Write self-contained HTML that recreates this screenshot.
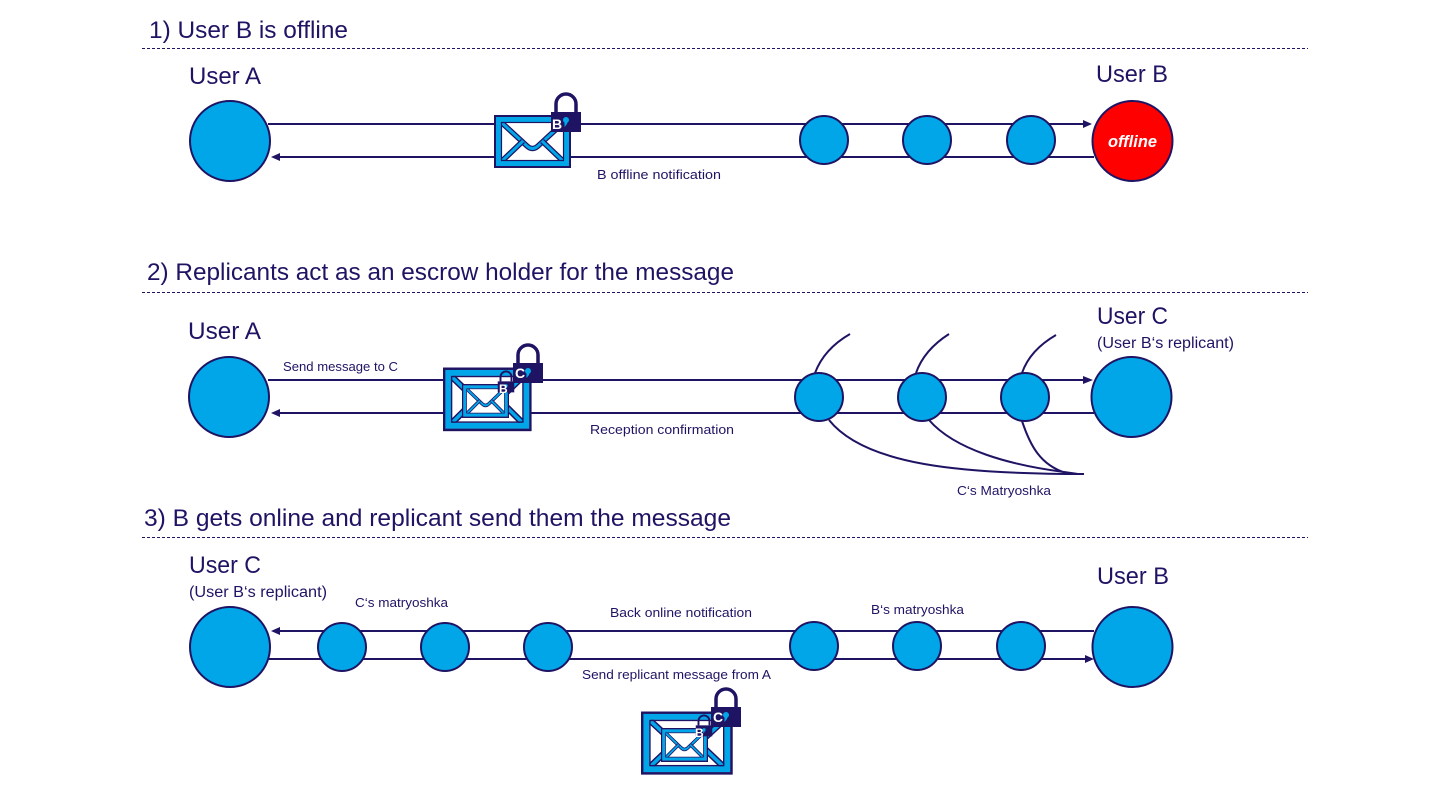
<!DOCTYPE html>
<html><head><meta charset="utf-8"><style>
html,body{margin:0;padding:0;background:#fff}
svg{display:block}
text{font-family:"Liberation Sans",sans-serif;fill:#1f1464}
.h{font-size:24px}
.u{font-size:24px}
.s{font-size:15.5px}
.t{font-size:12.5px}
.l{stroke:#1f1464;stroke-width:2;fill:none}
.c{fill:#00a6e8;stroke:#1f1464;stroke-width:2}
.d{stroke:#1f1464;stroke-width:1;stroke-dasharray:3 2;fill:none}
</style></head><body>
<svg width="1440" height="810" viewBox="0 0 1440 810" xmlns="http://www.w3.org/2000/svg">
<defs>
<g id="env">
<rect x="1" y="1" width="75" height="51" fill="#fff" stroke="#1f1464" stroke-width="2"/>
<path d="M8 8 L33 31 Q38.500 36 44 31 L69 8" fill="none" stroke="#1f1464" stroke-width="5.500"/>
<path d="M8 8 L33 31 Q38.500 36 44 31 L69 8" fill="none" stroke="#00a6e8" stroke-width="3"/>
<path d="M8 46 L29 26 M69 46 L48 26" fill="none" stroke="#1f1464" stroke-width="5.500"/>
<path d="M8 46 L29 26 M69 46 L48 26" fill="none" stroke="#00a6e8" stroke-width="3"/>
<rect x="4.500" y="4.500" width="68" height="44" fill="none" stroke="#00a6e8" stroke-width="5"/>
<rect x="7.500" y="7.500" width="62" height="38" fill="none" stroke="#1f1464" stroke-width="1.200"/>
<rect x="1" y="1" width="75" height="51" fill="none" stroke="#1f1464" stroke-width="2"/>
</g>
<g id="lock">
<path d="M-10 17 V9 A10 10 0 0 1 10 9 V17" fill="none" stroke="#1f1464" stroke-width="3.500"/>
<rect x="-15" y="17" width="30" height="20" fill="#1f1464"/>
<circle cx="0" cy="25" r="3" fill="#00a6e8"/>
<path d="M-1.500 26 L-1.500 32 L1 29 L1.500 26 Z" fill="#00a6e8"/>
</g>
</defs>

<!-- Section 1 -->
<text class="h" x="149" y="38" textLength="199" lengthAdjust="spacingAndGlyphs">1) User B is offline</text>
<line class="d" x1="142" y1="48.500" x2="1308" y2="48.500"/>
<text class="u" x="189" y="84" textLength="72" lengthAdjust="spacingAndGlyphs">User A</text>
<text class="u" x="1096" y="82" textLength="72" lengthAdjust="spacingAndGlyphs">User B</text>
<line class="l" x1="268" y1="124" x2="1086" y2="124"/>
<path d="M1092 124 L1083 120 V128 Z" fill="#1f1464"/>
<line class="l" x1="280" y1="157" x2="1094" y2="157"/>
<path d="M271 157 L280 153 V161 Z" fill="#1f1464"/>
<circle class="c" cx="230" cy="141" r="40"/>
<circle class="c" cx="824" cy="140" r="24"/>
<circle class="c" cx="927" cy="140" r="24"/>
<circle class="c" cx="1031" cy="140" r="24"/>
<circle cx="1132.500" cy="141" r="40" fill="#fe0000" stroke="#1f1464" stroke-width="2"/>
<text x="1108" y="147" font-size="16.500" font-weight="bold" font-style="italic" style="fill:#fff" textLength="49" lengthAdjust="spacingAndGlyphs">offline</text>
<use href="#env" x="494" y="115"/>
<use href="#lock" x="566" y="95"/>
<text x="552" y="129" font-size="14" font-weight="bold" style="fill:#fff">B</text>
<text class="t" x="597" y="179" textLength="124" lengthAdjust="spacingAndGlyphs">B offline notification</text>

<!-- Section 2 -->
<text class="h" x="147" y="280" textLength="587" lengthAdjust="spacingAndGlyphs">2) Replicants act as an escrow holder for the message</text>
<line class="d" x1="142" y1="292.500" x2="1308" y2="292.500"/>
<text class="u" x="188" y="339" textLength="73" lengthAdjust="spacingAndGlyphs">User A</text>
<text class="u" x="1097" y="324" textLength="71" lengthAdjust="spacingAndGlyphs">User C</text>
<text class="s" x="1097" y="348" textLength="137" lengthAdjust="spacingAndGlyphs">(User B‘s replicant)</text>
<line class="l" x1="268" y1="380" x2="1086" y2="380"/>
<path d="M1093 380 L1083 376 V384 Z" fill="#1f1464"/>
<line class="l" x1="280" y1="413" x2="1094" y2="413"/>
<path d="M271 413 L280 409 V417 Z" fill="#1f1464"/>
<path d="M815 373 Q824 349 850 334 M916 373 Q924 350 949 334 M1022 373 Q1030 350 1056 335" fill="none" stroke="#1f1464" stroke-width="2"/>
<path d="M829 420 C865 465 960 474 1084 474 M929 420 C955 450 1010 465 1064 472 L1078 474 M1022 421 C1030 445 1040 465 1066 473" fill="none" stroke="#1f1464" stroke-width="2"/>
<circle class="c" cx="229" cy="397" r="40"/>
<circle class="c" cx="819" cy="397" r="24"/>
<circle class="c" cx="922" cy="397" r="24"/>
<circle class="c" cx="1025" cy="397" r="24"/>
<circle class="c" cx="1131.500" cy="397" r="40"/>
<use href="#env" transform="translate(443 367.500) scale(1.150 1.200)"/>
<rect x="463" y="385" width="46" height="32" fill="#fff"/>
<use href="#env" transform="translate(462 384) scale(0.610 0.640)"/>
<use href="#lock" transform="translate(506 372) scale(0.550)"/>
<text x="499" y="393" font-size="12" font-weight="bold" style="fill:#fff">B</text>
<use href="#lock" x="528" y="346"/>
<text x="515" y="378" font-size="14" font-weight="bold" style="fill:#fff">C</text>
<text class="t" x="283" y="371" textLength="115" lengthAdjust="spacingAndGlyphs">Send message to C</text>
<text class="t" x="590" y="434" textLength="144" lengthAdjust="spacingAndGlyphs">Reception confirmation</text>
<text class="t" x="957" y="495" textLength="94" lengthAdjust="spacingAndGlyphs">C‘s Matryoshka</text>

<!-- Section 3 -->
<text class="h" x="144" y="526" textLength="587" lengthAdjust="spacingAndGlyphs">3) B gets online and replicant send them the message</text>
<line class="d" x1="142" y1="537.500" x2="1308" y2="537.500"/>
<text class="u" x="189" y="573" textLength="72" lengthAdjust="spacingAndGlyphs">User C</text>
<text class="s" x="189" y="597" textLength="138" lengthAdjust="spacingAndGlyphs">(User B‘s replicant)</text>
<text class="u" x="1097" y="584" textLength="72" lengthAdjust="spacingAndGlyphs">User B</text>
<line class="l" x1="280" y1="631" x2="1094" y2="631"/>
<path d="M271 631 L280 627 V635 Z" fill="#1f1464"/>
<line class="l" x1="268" y1="659" x2="1086" y2="659"/>
<path d="M1094 659 L1085 655 V663 Z" fill="#1f1464"/>
<circle class="c" cx="230" cy="647" r="40"/>
<circle class="c" cx="342" cy="647" r="24"/>
<circle class="c" cx="445" cy="647" r="24"/>
<circle class="c" cx="548" cy="647" r="24"/>
<circle class="c" cx="814" cy="646" r="24"/>
<circle class="c" cx="917" cy="646" r="24"/>
<circle class="c" cx="1021" cy="646" r="24"/>
<circle class="c" cx="1132.500" cy="647" r="40"/>
<text class="t" x="355" y="607" textLength="93" lengthAdjust="spacingAndGlyphs">C‘s matryoshka</text>
<text class="t" x="610" y="617" textLength="142" lengthAdjust="spacingAndGlyphs">Back online notification</text>
<text class="t" x="871" y="614" textLength="93" lengthAdjust="spacingAndGlyphs">B‘s matryoshka</text>
<text class="t" x="582" y="679" textLength="189" lengthAdjust="spacingAndGlyphs">Send replicant message from A</text>
<use href="#env" transform="translate(641 711.500) scale(1.190 1.190)"/>
<rect x="662" y="729" width="46" height="32" fill="#fff"/>
<use href="#env" transform="translate(661 728) scale(0.610 0.640)"/>
<use href="#lock" transform="translate(704 716) scale(0.550)"/>
<text x="695" y="737" font-size="12" font-weight="bold" style="fill:#fff">B</text>
<use href="#lock" x="726" y="690"/>
<text x="713" y="722" font-size="14" font-weight="bold" style="fill:#fff">C</text>
</svg>
</body></html>
